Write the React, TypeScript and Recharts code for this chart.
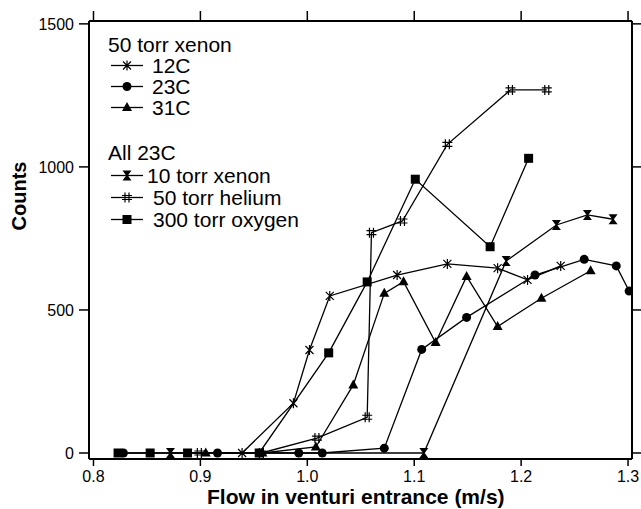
import React from 'react';
import { LineChart, Line, XAxis, YAxis } from 'recharts';

// ---- data ----
const xTicks = [0.8, 0.9, 1.0, 1.1, 1.2, 1.3];
const yTicks = [0, 500, 1000, 1500];

// 50 torr xenon, 12C
const x12C = [0.939, 0.987, 1.002, 1.021, 1.084, 1.131, 1.178, 1.206, 1.237];
const y12C = [0, 174, 360, 549, 622, 661, 646, 605, 654];
// 50 torr xenon, 23C
const x23C = [0.828, 0.916, 0.992, 1.014, 1.072, 1.107, 1.149, 1.213, 1.259, 1.289, 1.301];
const y23C = [0, 0, 0, 0, 17, 362, 474, 622, 677, 654, 566];
// 50 torr xenon, 31C
const x31C = [0.905, 0.958, 1.008, 1.043, 1.072, 1.090, 1.120, 1.149, 1.178, 1.219, 1.265];
const y31C = [0, 0, 21, 238, 558, 599, 386, 617, 442, 541, 637];
// All 23C: 10 torr xenon
const xXe10 = [0.872, 1.109, 1.186, 1.233, 1.262, 1.286];
const yXe10 = [0, 0, 671, 797, 832, 817];
// All 23C: 50 torr helium
const xHe50 = [0.899, 0.957, 1.009, 1.056, 1.060, 1.089, 1.131, 1.190, 1.224];
const yHe50 = [0, 0, 52, 125, 770, 811, 1079, 1269, 1269];
// All 23C: 300 torr oxygen
const xO300 = [0.823, 0.853, 0.888, 0.955, 1.020, 1.056, 1.101, 1.171, 1.207];
const yO300 = [0, 0, 0, 0, 350, 598, 957, 721, 1030];

const xDomain: [number, number] = [0.7958, 1.3037];
const yDomain: [number, number] = [-21, 1510];

const zip = (xs: number[], ys: number[]) => xs.map((x, i) => ({ x, y: ys[i] }));

type Shape = 'star' | 'circle' | 'triangle' | 'hourglass' | 'hash' | 'square';

function Marker({ shape, cx, cy }: { shape: Shape; cx: number; cy: number }) {
  let el: React.ReactNode = null;
  switch (shape) {
    case 'star':
      el = <path d="M-4,-4L4,4M-4,4L4,-4M0,-5L0,5" stroke="#000" strokeWidth={1.2} fill="none" />;
      break;
    case 'circle':
      el = <circle r={4.5} fill="#000" />;
      break;
    case 'triangle':
      el = <path d="M0,-5.5L5,3.5L-5,3.5Z" fill="#000" />;
      break;
    case 'hourglass':
      el = <path d="M-4.5,-5H4.5L0.8,0L4.5,5H-4.5L-0.8,0Z" fill="#000" />;
      break;
    case 'hash':
      el = <path d="M-2,-5V5M2,-5V5M-5,-2H5M-5,2H5" stroke="#000" strokeWidth={1.2} fill="none" />;
      break;
    case 'square':
      el = <rect x={-4.5} y={-4.5} width={9} height={9} fill="#000" />;
      break;
  }
  return <g transform={`translate(${cx},${cy})`}>{el}</g>;
}

const series: { name: string; shape: Shape; data: { x: number; y: number }[] }[] = [
  { name: '12C', shape: 'star', data: zip(x12C, y12C) },
  { name: '23C', shape: 'circle', data: zip(x23C, y23C) },
  { name: '31C', shape: 'triangle', data: zip(x31C, y31C) },
  { name: '10 torr xenon', shape: 'hourglass', data: zip(xXe10, yXe10) },
  { name: '50 torr helium', shape: 'hash', data: zip(xHe50, yHe50) },
  { name: '300 torr oxygen', shape: 'square', data: zip(xO300, yO300) },
];

const FONT = '"Liberation Sans", Arial, Helvetica, sans-serif';

const emptyTick = () => <g />;

export default function App() {
  const legendItems: { label: string; shape: Shape; base: number; tx: number }[] = [
    { label: '12C', shape: 'star', base: 73, tx: 152 },
    { label: '23C', shape: 'circle', base: 94, tx: 152 },
    { label: '31C', shape: 'triangle', base: 115, tx: 152 },
    { label: '10 torr xenon', shape: 'hourglass', base: 183, tx: 147 },
    { label: '50 torr helium', shape: 'hash', base: 205, tx: 153 },
    { label: '300 torr oxygen', shape: 'square', base: 227, tx: 153 },
  ];
  return (
    <div style={{ position: 'absolute', left: 0, top: 0, width: 641, height: 509, background: '#fff' }}>
      <LineChart width={641} height={509} margin={{ top: 0, right: 0, bottom: 0, left: 0 }}>
        <XAxis
          xAxisId="b"
          type="number"
          dataKey="x"
          domain={xDomain}
          allowDataOverflow
          ticks={xTicks}
          tickFormatter={(v: number) => v.toFixed(1)}
          height={50}
          tickSize={7}
          tickMargin={5}
          axisLine={{ stroke: '#000', strokeWidth: 2 }}
          tickLine={{ stroke: '#000', strokeWidth: 1.5 }}
          tick={{ fill: '#000', fontSize: 16, fontFamily: FONT }}
        />
        <XAxis
          xAxisId="t"
          orientation="top"
          type="number"
          dataKey="x"
          domain={xDomain}
          allowDataOverflow
          ticks={xTicks}
          height={21}
          tickSize={10}
          axisLine={{ stroke: '#000', strokeWidth: 2 }}
          tickLine={{ stroke: '#000', strokeWidth: 1.5 }}
          tick={emptyTick}
        />
        <YAxis
          yAxisId="l"
          type="number"
          dataKey="y"
          domain={yDomain}
          allowDataOverflow
          ticks={yTicks}
          width={89}
          tickSize={10}
          tickMargin={5}
          axisLine={{ stroke: '#000', strokeWidth: 2 }}
          tickLine={{ stroke: '#000', strokeWidth: 1.5 }}
          tick={{ fill: '#000', fontSize: 16, fontFamily: FONT }}
        />
        <YAxis
          yAxisId="r"
          orientation="right"
          type="number"
          dataKey="y"
          domain={yDomain}
          allowDataOverflow
          ticks={yTicks}
          width={9}
          tickSize={9}
          axisLine={{ stroke: '#000', strokeWidth: 2 }}
          tickLine={{ stroke: '#000', strokeWidth: 1.5 }}
          tick={emptyTick}
        />
        {series.map((s) => (
          <Line
            key={s.name}
            name={s.name}
            xAxisId="b"
            yAxisId="l"
            data={s.data}
            dataKey="y"
            type="linear"
            stroke="#000"
            strokeWidth={1.3}
            isAnimationActive={false}
            dot={(p: any) => (
              <Marker key={`${s.name}-${p.index}`} shape={s.shape} cx={p.cx} cy={p.cy} />
            )}
            activeDot={false}
          />
        ))}
      </LineChart>
      <svg
        width={641}
        height={509}
        style={{ position: 'absolute', left: 0, top: 0, pointerEvents: 'none' }}
      >
        <g fontFamily={FONT} fill="#000">
          <text x={108} y={52} fontSize={21}>50 torr xenon</text>
          <text x={108} y={160} fontSize={21}>All 23C</text>
          {legendItems.map((it) => (
            <g key={it.label}>
              <line x1={111} x2={143} y1={it.base - 7.5} y2={it.base - 7.5} stroke="#000" strokeWidth={1.3} />
              <Marker shape={it.shape} cx={127} cy={it.base - 7.5} />
              <text x={it.tx} y={it.base} fontSize={21}>{it.label}</text>
            </g>
          ))}
          <text
            x={0}
            y={0}
            fontSize={20}
            fontWeight="bold"
            textAnchor="middle"
            transform="translate(26,196) rotate(-90)"
          >
            Counts
          </text>
          <text x={207} y={504} fontSize={21} fontWeight="bold">
            Flow in venturi entrance (m/s)
          </text>
        </g>
      </svg>
    </div>
  );
}
